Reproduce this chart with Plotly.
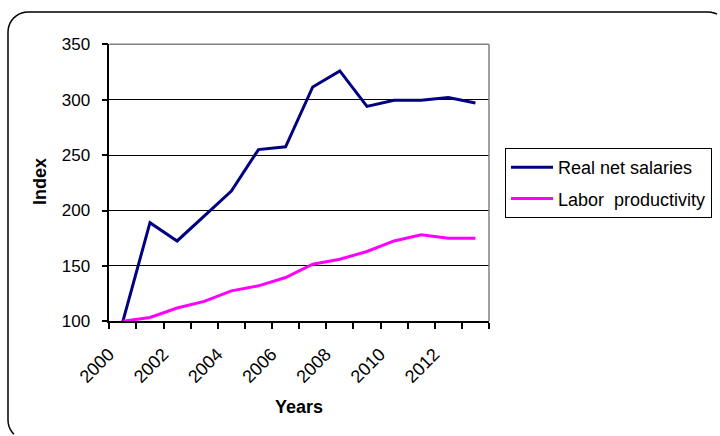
import math
import plotly.graph_objects as go

# Index values (2000 = 100)
years = list(range(2000, 2014))
real_net_salaries = [100, 189, 172.5, 195, 217.5, 255, 257.5, 311.5, 326, 294, 299.5, 299.5, 302, 297]
labor_productivity = [100, 103.5, 112, 118, 127.5, 132, 139.5, 151.5, 156, 163, 172.5, 178, 175, 175]
year_labels = ["2000", "2002", "2004", "2006", "2008", "2010", "2012"]
y_ticks = [100, 150, 200, 250, 300, 350]

W, H = 720, 436
FONT = "Arial, 'Liberation Sans', sans-serif"

# plot area in pixels
PL, PR, PT, PB = 109.3, 489.0, 44.3, 321.3


def px(x):
    return x / W


def py(y):
    return 1 - y / H


x_range = [years[0] - 0.5, years[-1] + 0.5]
boundaries = [y - 0.5 for y in years] + [years[-1] + 0.5]

fig = go.Figure()
fig.add_trace(go.Scatter(
    x=years, y=real_net_salaries, mode="lines", name="Real net salaries",
    line=dict(color="#000080", width=3), legendgroup="a", xaxis="x", yaxis="y",
))
fig.add_trace(go.Scatter(
    x=years, y=labor_productivity, mode="lines", name="Labor\u00a0 productivity",
    line=dict(color="#FF00FF", width=3), legendgroup="b", xaxis="x2", yaxis="y",
))


def arc(cx, cy, rad, a0, a1, n=10):
    pts = []
    for i in range(n + 1):
        a = math.radians(a0 + (a1 - a0) * i / n)
        pts.append((cx + rad * math.cos(a), cy + rad * math.sin(a)))
    return pts


# rounded outer frame, cut off by the right and bottom page edges
R = 20
FL, FT, FR, FB = 8, 12, 728, 440
bl_up = [(x, y) for (x, y) in arc(FL + R, FB - R, R, 90, 180) if y <= H - 0.5]
tl = arc(FL + R, FT + R, R, 180, 270)
tr = [(x, y) for (x, y) in arc(FR - R, FT + R, R, 270, 360) if x <= W - 0.5]
frame_pts = bl_up + tl + tr
path = "M " + " L ".join(f"{px(x):.5f},{py(y):.5f}" for x, y in frame_pts)

shapes = [
    dict(type="path", path=path, xref="paper", yref="paper",
         line=dict(color="black", width=1.5), layer="below"),
    # grey top and right edges of the plot area
    dict(type="line", xref="paper", yref="paper", x0=px(PL), x1=px(PR), y0=py(PT), y1=py(PT),
         line=dict(color="#808080", width=1.5), layer="above"),
    dict(type="line", xref="paper", yref="paper", x0=px(PR), x1=px(PR), y0=py(PT), y1=py(PB),
         line=dict(color="#808080", width=1.5), layer="above"),
]

fig.update_layout(
    width=W, height=H,
    margin=dict(l=0, r=0, t=0, b=0, autoexpand=False),
    paper_bgcolor="white", plot_bgcolor="white",
    font=dict(family=FONT, size=17, color="black"),
    showlegend=True,
    legend=dict(
        x=px(505), y=py(148), xanchor="left", yanchor="top",
        bordercolor="black", borderwidth=1, bgcolor="white",
        font=dict(family=FONT, size=18, color="black"),
        tracegroupgap=5, itemwidth=42,
    ),
    xaxis=dict(
        domain=[px(PL), px(PR)], range=x_range, automargin=False,
        tickmode="array", tickvals=boundaries, showticklabels=False,
        ticks="outside", ticklen=6, tickcolor="black", tickwidth=1.5,
        showline=True, linecolor="black", linewidth=1.5,
        showgrid=False, zeroline=False, anchor="y",
    ),
    xaxis2=dict(
        overlaying="x", range=x_range, anchor="y", side="bottom", automargin=False,
        tickmode="array", tickvals=[int(s) for s in year_labels], ticktext=year_labels,
        tickangle=-45, ticks="", showgrid=False, zeroline=False, showline=False,
        ticklabelstandoff=18, ticklabelshift=-14,
        tickfont=dict(family=FONT, size=18, color="black"),
    ),
    yaxis=dict(
        domain=[py(PB), py(PT)], range=[100, 350], automargin=False,
        tickmode="array", tickvals=y_ticks,
        ticks="outside", ticklen=6, tickcolor="black", tickwidth=1.5,
        showline=True, linecolor="black", linewidth=1.5,
        showgrid=True, gridcolor="black", gridwidth=1.2,
        zeroline=False, ticklabelstandoff=8,
        tickfont=dict(family=FONT, size=17, color="black"),
    ),
    shapes=shapes,
    annotations=[
        dict(text="<b>Index</b>", xref="paper", yref="paper", x=px(40), y=py(182),
             xanchor="center", yanchor="middle",
             showarrow=False, textangle=-90, font=dict(family=FONT, size=18, color="black")),
        dict(text="<b>Years</b>", xref="paper", yref="paper", x=px(299), y=py(407),
             xanchor="center", yanchor="middle",
             showarrow=False, font=dict(family=FONT, size=18, color="black")),
    ],
)

fig.write_html(
    "out.html",
    post_script="document.body.style.margin='0';document.body.style.overflow='hidden';",
)
